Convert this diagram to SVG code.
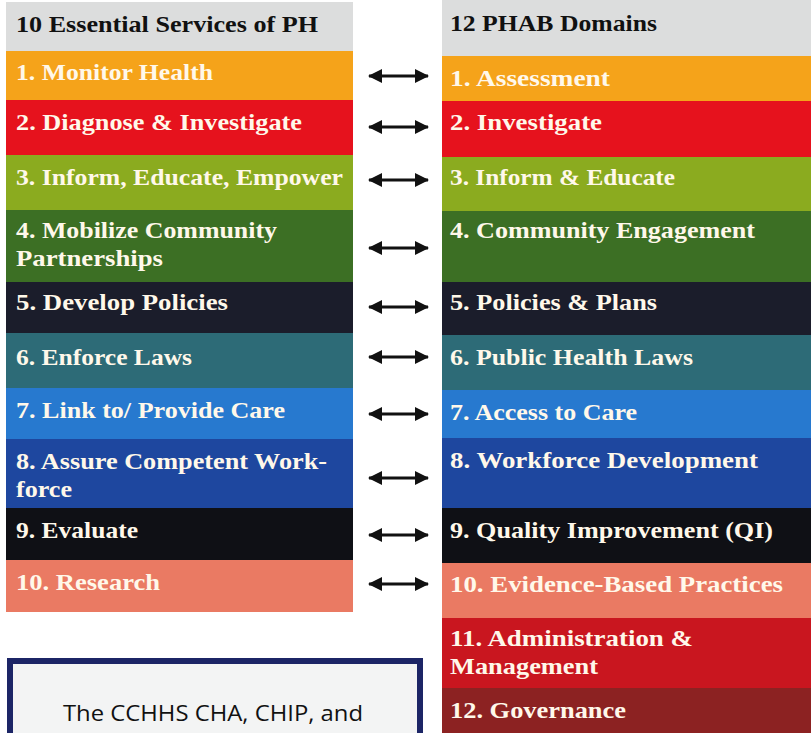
<svg xmlns="http://www.w3.org/2000/svg" width="811" height="733" viewBox="0 0 811 733">
<defs>
<marker id="ah" viewBox="0 0 14 14" refX="13" refY="7" markerWidth="14" markerHeight="14" markerUnits="userSpaceOnUse" orient="auto-start-reverse">
<path d="M0,0 L14,7 L0,14 Z" fill="#111"/>
</marker>
<style>
.t{font-family:"Liberation Serif","DejaVu Serif",serif;font-weight:bold;font-size:24px;fill:#fff8ea}
.h{font-family:"Liberation Serif","DejaVu Serif",serif;font-weight:bold;font-size:24px;fill:#111}
.c{stroke:#111;stroke-width:3;fill:none;marker-start:url(#ah);marker-end:url(#ah)}
</style>
</defs>
<rect width="811" height="733" fill="#ffffff"/>

<g id="left-header"><rect x="6" y="2" width="347" height="49" fill="#dcdddd"/><text class="h" x="16" y="32" textLength="302" lengthAdjust="spacingAndGlyphs">10 Essential Services of PH</text></g>
<g id="es1"><rect x="6" y="51" width="347" height="49" fill="#f5a31a"/><text class="t" x="16" y="80" textLength="197" lengthAdjust="spacingAndGlyphs">1. Monitor Health</text></g>
<g id="es2"><rect x="6" y="100" width="347" height="55" fill="#e6121d"/><text class="t" x="16" y="130" textLength="286" lengthAdjust="spacingAndGlyphs">2. Diagnose &amp; Investigate</text></g>
<g id="es3"><rect x="6" y="155" width="347" height="55" fill="#8bab1f"/><text class="t" x="16" y="185" textLength="327" lengthAdjust="spacingAndGlyphs">3. Inform, Educate, Empower</text></g>
<g id="es4"><rect x="6" y="210" width="347" height="72" fill="#3c6f24"/><text class="t" x="16" y="238" textLength="261" lengthAdjust="spacingAndGlyphs">4. Mobilize Community</text><text class="t" x="16" y="266" textLength="147" lengthAdjust="spacingAndGlyphs">Partnerships</text></g>
<g id="es5"><rect x="6" y="282" width="347" height="51" fill="#1b1d2b"/><text class="t" x="16" y="310" textLength="212" lengthAdjust="spacingAndGlyphs">5. Develop Policies</text></g>
<g id="es6"><rect x="6" y="333" width="347" height="55" fill="#2d6b77"/><text class="t" x="16" y="365" textLength="176" lengthAdjust="spacingAndGlyphs">6. Enforce Laws</text></g>
<g id="es7"><rect x="6" y="388" width="347" height="51" fill="#2779cf"/><text class="t" x="16" y="418" textLength="269" lengthAdjust="spacingAndGlyphs">7. Link to/ Provide Care</text></g>
<g id="es8"><rect x="6" y="439" width="347" height="69" fill="#1e479f"/><text class="t" x="16" y="469" textLength="311" lengthAdjust="spacingAndGlyphs">8. Assure Competent Work-</text><text class="t" x="16" y="497" textLength="56" lengthAdjust="spacingAndGlyphs">force</text></g>
<g id="es9"><rect x="6" y="508" width="347" height="52" fill="#0f1015"/><text class="t" x="16" y="538" textLength="122" lengthAdjust="spacingAndGlyphs">9. Evaluate</text></g>
<g id="es10"><rect x="6" y="560" width="347" height="52" fill="#ea7a63"/><text class="t" x="16" y="590" textLength="144" lengthAdjust="spacingAndGlyphs">10. Research</text></g>

<g id="right-header"><rect x="442" y="0" width="369" height="56" fill="#dcdddd"/><text class="h" x="450" y="31" textLength="207" lengthAdjust="spacingAndGlyphs">12 PHAB Domains</text></g>
<g id="d1"><rect x="442" y="56" width="369" height="45" fill="#f5a31a"/><text class="t" x="450" y="86" textLength="160" lengthAdjust="spacingAndGlyphs">1. Assessment</text></g>
<g id="d2"><rect x="442" y="101" width="369" height="56" fill="#e6121d"/><text class="t" x="450" y="130" textLength="152" lengthAdjust="spacingAndGlyphs">2. Investigate</text></g>
<g id="d3"><rect x="442" y="157" width="369" height="54" fill="#8bab1f"/><text class="t" x="450" y="185" textLength="225" lengthAdjust="spacingAndGlyphs">3. Inform &amp; Educate</text></g>
<g id="d4"><rect x="442" y="211" width="369" height="71" fill="#3c6f24"/><text class="t" x="450" y="238" textLength="305" lengthAdjust="spacingAndGlyphs">4. Community Engagement</text></g>
<g id="d5"><rect x="442" y="282" width="369" height="53" fill="#1b1d2b"/><text class="t" x="450" y="310" textLength="207" lengthAdjust="spacingAndGlyphs">5. Policies &amp; Plans</text></g>
<g id="d6"><rect x="442" y="335" width="369" height="55" fill="#2d6b77"/><text class="t" x="450" y="365" textLength="243" lengthAdjust="spacingAndGlyphs">6. Public Health Laws</text></g>
<g id="d7"><rect x="442" y="390" width="369" height="48" fill="#2779cf"/><text class="t" x="450" y="420" textLength="187" lengthAdjust="spacingAndGlyphs">7. Access to Care</text></g>
<g id="d8"><rect x="442" y="438" width="369" height="70" fill="#1e479f"/><text class="t" x="450" y="468" textLength="308" lengthAdjust="spacingAndGlyphs">8. Workforce Development</text></g>
<g id="d9"><rect x="442" y="508" width="369" height="55" fill="#0f1015"/><text class="t" x="450" y="538" textLength="323" lengthAdjust="spacingAndGlyphs">9. Quality Improvement (QI)</text></g>
<g id="d10"><rect x="442" y="563" width="369" height="55" fill="#ea7a63"/><text class="t" x="450" y="592" textLength="333" lengthAdjust="spacingAndGlyphs">10. Evidence-Based Practices</text></g>
<g id="d11"><rect x="442" y="618" width="369" height="70" fill="#c9161f"/><text class="t" x="450" y="646" textLength="243" lengthAdjust="spacingAndGlyphs">11. Administration &amp;</text><text class="t" x="450" y="674" textLength="148" lengthAdjust="spacingAndGlyphs">Management</text></g>
<g id="d12"><rect x="442" y="688" width="369" height="45" fill="#8c2222"/><text class="t" x="450" y="718" textLength="176" lengthAdjust="spacingAndGlyphs">12. Governance</text></g>

<g id="note"><rect x="10" y="661" width="410" height="90" fill="#f3f4f4" stroke="#1c2566" stroke-width="6"/><text x="213" y="721" text-anchor="middle" font-family="'Open Sans','Liberation Sans',sans-serif" font-size="22" fill="#111" textLength="300" lengthAdjust="spacingAndGlyphs">The CCHHS CHA, CHIP, and</text></g>

<g id="connectors">
<line class="c" x1="369" y1="76" x2="428" y2="76"/>
<line class="c" x1="369" y1="127" x2="428" y2="127"/>
<line class="c" x1="369" y1="180" x2="428" y2="180"/>
<line class="c" x1="369" y1="248" x2="428" y2="248"/>
<line class="c" x1="369" y1="307" x2="428" y2="307"/>
<line class="c" x1="369" y1="357" x2="428" y2="357"/>
<line class="c" x1="369" y1="414" x2="428" y2="414"/>
<line class="c" x1="369" y1="478" x2="428" y2="478"/>
<line class="c" x1="369" y1="535" x2="428" y2="535"/>
<line class="c" x1="369" y1="584" x2="428" y2="584"/>
</g>
</svg>
